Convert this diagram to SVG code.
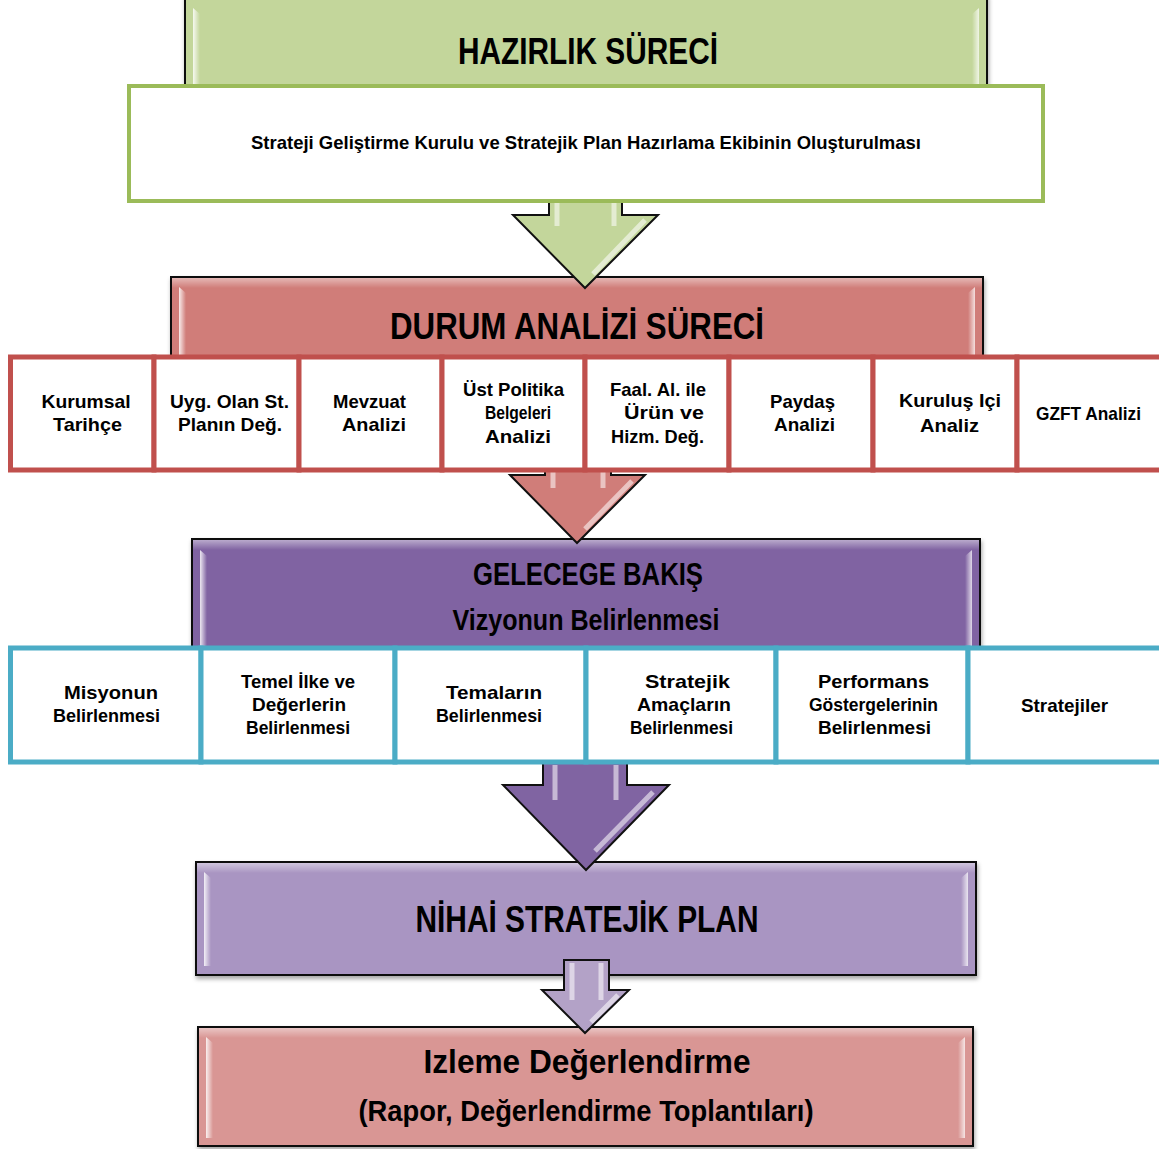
<svg xmlns="http://www.w3.org/2000/svg" width="1159" height="1149" viewBox="0 0 1159 1149">
<style>
.t{font-family:"Liberation Sans Narrow","Liberation Sans",Arial,sans-serif;font-weight:bold;fill:#000;text-anchor:middle}
.c{font-family:"Liberation Sans",Arial,sans-serif;font-weight:bold;font-size:19px;fill:#000;text-anchor:middle}
.hdr{stroke:#111;stroke-width:2}
.red{fill:#fff;stroke:#C0504D;stroke-width:5}
.teal{fill:#fff;stroke:#4BACC6;stroke-width:5}
.arr{stroke:#111;stroke-width:2;stroke-linejoin:miter}
.hl{fill:url(#hlL)}
.hr{fill:url(#hlR)}
.ash{stroke:#fff;stroke-opacity:0.55;stroke-width:5;fill:none}
</style>
<defs>
<linearGradient id="hlL" x1="0" y1="0" x2="1" y2="0">
<stop offset="0" stop-color="#fff" stop-opacity="0.85"/>
<stop offset="1" stop-color="#fff" stop-opacity="0"/>
</linearGradient>
<linearGradient id="hlR" x1="1" y1="0" x2="0" y2="0">
<stop offset="0" stop-color="#fff" stop-opacity="0.75"/>
<stop offset="1" stop-color="#fff" stop-opacity="0"/>
</linearGradient>
<linearGradient id="hlT" x1="0" y1="0" x2="0" y2="1">
<stop offset="0" stop-color="#fff" stop-opacity="0.45"/>
<stop offset="1" stop-color="#fff" stop-opacity="0"/>
</linearGradient>
<filter id="sh" x="-5%" y="-5%" width="110%" height="115%">
<feDropShadow dx="1" dy="3" stdDeviation="2" flood-color="#000" flood-opacity="0.35"/>
</filter>
</defs>
<rect width="1159" height="1149" fill="#fff"/>

<g id="hazirlik">
<rect class="hdr" x="185" y="-5" width="802" height="95" fill="#C3D69B" filter="url(#sh)"/>
<path class="hl" d="M193,8 L200,14 L200,86 L193,86 Z"/>
<path class="hr" d="M979,8 L972,14 L972,86 L979,86 Z"/>
<text class="t" x="588" y="64" font-size="37" textLength="260" lengthAdjust="spacingAndGlyphs">HAZIRLIK SÜRECİ</text>
</g>

<g id="durum">
<rect class="hdr" x="171" y="277" width="812" height="85" fill="#D07D79" filter="url(#sh)"/>
<rect x="172" y="278" width="810" height="10" fill="url(#hlT)"/>
<path class="hl" d="M179,287 L186,293 L186,360 L179,360 Z"/>
<path class="hr" d="M975,287 L968,293 L968,360 L975,360 Z"/>
<text class="t" x="577" y="339" font-size="37" textLength="374" lengthAdjust="spacingAndGlyphs">DURUM ANALİZİ SÜRECİ</text>
</g>

<g id="gelecek">
<rect class="hdr" x="192" y="539" width="788" height="112" fill="#8064A2" filter="url(#sh)"/>
<rect x="193" y="540" width="786" height="10" fill="url(#hlT)"/>
<path class="hl" d="M200,550 L207,556 L207,648 L200,648 Z"/>
<path class="hr" d="M972,550 L965,556 L965,648 L972,648 Z"/>
<text class="t" x="588" y="585" font-size="31" textLength="230" lengthAdjust="spacingAndGlyphs">GELECEGE BAKIŞ</text>
<text class="t" x="586" y="630" font-size="29" textLength="267" lengthAdjust="spacingAndGlyphs">Vizyonun  Belirlenmesi</text>
</g>

<g id="nihai">
<rect class="hdr" x="196" y="862" width="780" height="113" fill="#A995C2" filter="url(#sh)"/>
<rect x="197" y="863" width="778" height="10" fill="url(#hlT)"/>
<path class="hl" d="M204,872 L211,878 L211,966 L204,966 Z"/>
<path class="hr" d="M968,872 L961,878 L961,966 L968,966 Z"/>
<text class="t" x="587" y="932" font-size="37" textLength="343" lengthAdjust="spacingAndGlyphs">NİHAİ STRATEJİK PLAN</text>
</g>

<g id="izleme">
<rect class="hdr" x="198" y="1027" width="775" height="119" fill="#D99694" filter="url(#sh)"/>
<rect x="199" y="1028" width="773" height="10" fill="url(#hlT)"/>
<path class="hl" d="M206,1037 L213,1043 L213,1138 L206,1138 Z"/>
<path class="hr" d="M965,1037 L958,1043 L958,1138 L965,1138 Z"/>
<text class="t" x="587" y="1073" font-size="33" textLength="327" lengthAdjust="spacingAndGlyphs">Izleme Değerlendirme</text>
<text class="t" x="586" y="1121" font-size="30" textLength="455" lengthAdjust="spacingAndGlyphs">(Rapor, Değerlendirme Toplantıları)</text>
</g>

<g id="connectors">
<path class="arr" fill="#C3D69B" d="M549,190 L549,215 L513,215 L585,288 L658,215 L622,215 L622,190 Z"/>
<path class="ash" d="M557,195 L557,226 M614,195 L614,226 M645,220 L593,274"/>
<path class="arr" fill="#D07D79" d="M545,465 L545,475 L510,475 L577,543 L645,475 L611,475 L611,465 Z"/>
<path class="ash" d="M553,470 L553,488 M603,470 L603,488 M632,481 L585,529"/>
<path class="arr" fill="#8064A2" d="M543,755 L543,785 L503,785 L586,870 L669,785 L627,785 L627,755 Z"/>
<path class="ash" d="M555,765 L555,800 M616,765 L616,800 M653,792 L595,851"/>
<path class="arr" fill="#B3A2C7" d="M564,960 L564,990 L542,990 L585,1033 L629,990 L609,990 L609,960 Z"/>
<path class="ash" d="M572,963 L572,1000 M601,963 L601,1000 M618,995 L591,1022"/>
</g>

<g id="olusturma">
<rect x="129" y="86" width="914" height="115" fill="#fff" stroke="#9BBB59" stroke-width="4"/>
<text class="t" x="586" y="149" font-size="19" textLength="670" lengthAdjust="spacingAndGlyphs">Strateji Geliştirme Kurulu ve Stratejik Plan Hazırlama Ekibinin Oluşturulması</text>
</g>

<g id="kurumsal-tarihce">
<rect class="red" x="10.5" y="357" width="143.5" height="113"/>
<text class="c" x="86" y="408" textLength="89" lengthAdjust="spacingAndGlyphs">Kurumsal</text>
<text class="c" x="87.5" y="431" textLength="69" lengthAdjust="spacingAndGlyphs">Tarihçe</text>
</g>
<g id="uyg-olan">
<rect class="red" x="154" y="357" width="145" height="113"/>
<text class="c" x="229.5" y="408" textLength="119" lengthAdjust="spacingAndGlyphs">Uyg. Olan St.</text>
<text class="c" x="230" y="431" textLength="104" lengthAdjust="spacingAndGlyphs">Planın Değ.</text>
</g>
<g id="mevzuat">
<rect class="red" x="299" y="357" width="143" height="113"/>
<text class="c" x="369.5" y="408" textLength="73" lengthAdjust="spacingAndGlyphs">Mevzuat</text>
<text class="c" x="374" y="431" textLength="64" lengthAdjust="spacingAndGlyphs">Analizi</text>
</g>
<g id="ust-politika">
<rect class="red" x="442" y="357" width="143" height="113"/>
<text class="c" x="513.5" y="396" textLength="101" lengthAdjust="spacingAndGlyphs">Üst Politika</text>
<text class="c" x="518" y="419" font-size="17" textLength="66" lengthAdjust="spacingAndGlyphs">Belgeleri</text>
<text class="c" x="518" y="443" textLength="66" lengthAdjust="spacingAndGlyphs">Analizi</text>
</g>
<g id="faal">
<rect class="red" x="585" y="357" width="144" height="113"/>
<text class="c" x="658" y="396" textLength="96" lengthAdjust="spacingAndGlyphs">Faal. Al. ile</text>
<text class="c" x="664" y="419" textLength="80" lengthAdjust="spacingAndGlyphs">Ürün ve</text>
<text class="c" x="657.5" y="443" textLength="93" lengthAdjust="spacingAndGlyphs">Hizm. Değ.</text>
</g>
<g id="paydas">
<rect class="red" x="729" y="357" width="144" height="113"/>
<text class="c" x="802.5" y="408" textLength="65" lengthAdjust="spacingAndGlyphs">Paydaş</text>
<text class="c" x="804.5" y="431" textLength="61" lengthAdjust="spacingAndGlyphs">Analizi</text>
</g>
<g id="kurulus-ici">
<rect class="red" x="873" y="357" width="144" height="113"/>
<text class="c" x="950" y="407" textLength="102" lengthAdjust="spacingAndGlyphs">Kuruluş Içi</text>
<text class="c" x="949.5" y="432" textLength="59" lengthAdjust="spacingAndGlyphs">Analiz</text>
</g>
<g id="gzft">
<rect class="red" x="1017" y="357" width="146" height="113"/>
<text class="c" x="1088.5" y="420" textLength="105" lengthAdjust="spacingAndGlyphs">GZFT Analizi</text>
</g>

<g id="misyon">
<rect class="teal" x="10.5" y="648" width="190.5" height="114"/>
<text class="c" x="111" y="699" textLength="94" lengthAdjust="spacingAndGlyphs">Misyonun</text>
<text class="c" x="106.5" y="722" textLength="107" lengthAdjust="spacingAndGlyphs">Belirlenmesi</text>
</g>
<g id="temel-ilke">
<rect class="teal" x="201" y="648" width="194" height="114"/>
<text class="c" x="298" y="688" textLength="114" lengthAdjust="spacingAndGlyphs">Temel İlke ve</text>
<text class="c" x="299" y="711" textLength="94" lengthAdjust="spacingAndGlyphs">Değerlerin</text>
<text class="c" x="298" y="734" textLength="104" lengthAdjust="spacingAndGlyphs">Belirlenmesi</text>
</g>
<g id="temalar">
<rect class="teal" x="395" y="648" width="191" height="114"/>
<text class="c" x="494" y="699" textLength="96" lengthAdjust="spacingAndGlyphs">Temaların</text>
<text class="c" x="489" y="722" textLength="106" lengthAdjust="spacingAndGlyphs">Belirlenmesi</text>
</g>
<g id="stratejik-amaclar">
<rect class="teal" x="586" y="648" width="190" height="114"/>
<text class="c" x="687.5" y="688" textLength="85" lengthAdjust="spacingAndGlyphs">Stratejik</text>
<text class="c" x="684" y="711" textLength="94" lengthAdjust="spacingAndGlyphs">Amaçların</text>
<text class="c" x="681.5" y="734" textLength="103" lengthAdjust="spacingAndGlyphs">Belirlenmesi</text>
</g>
<g id="performans">
<rect class="teal" x="776" y="648" width="192" height="114"/>
<text class="c" x="873.5" y="688" textLength="111" lengthAdjust="spacingAndGlyphs">Performans</text>
<text class="c" x="873.5" y="711" textLength="129" lengthAdjust="spacingAndGlyphs">Göstergelerinin</text>
<text class="c" x="874.5" y="734" textLength="113" lengthAdjust="spacingAndGlyphs">Belirlenmesi</text>
</g>
<g id="stratejiler">
<rect class="teal" x="968" y="648" width="195" height="114"/>
<text class="c" x="1064.5" y="712" textLength="87" lengthAdjust="spacingAndGlyphs">Stratejiler</text>
</g>
</svg>
